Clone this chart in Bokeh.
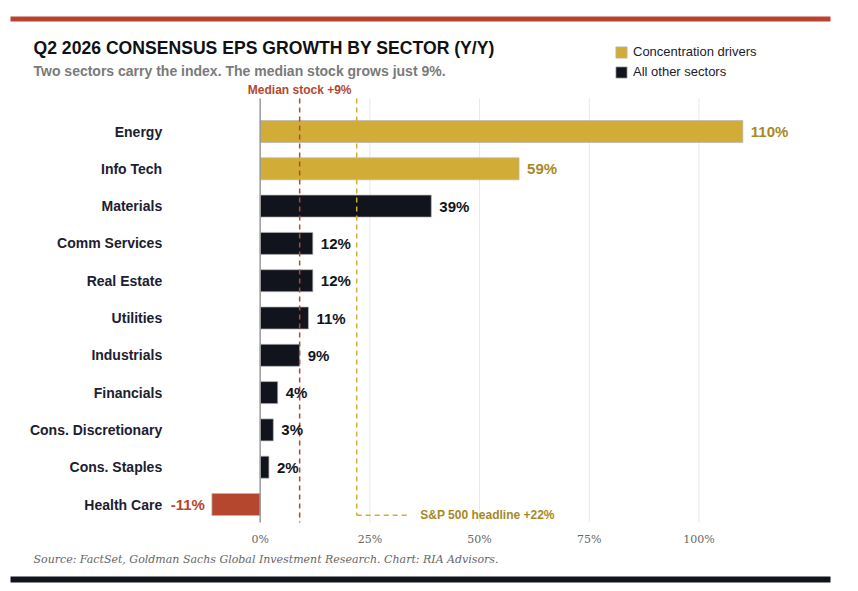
from bokeh.plotting import figure
from bokeh.models import Range1d, Label, BoxAnnotation, Legend, LegendItem, ColumnDataSource
from bokeh.embed import file_html
from bokeh.resources import INLINE
from bokeh.core.properties import value

# --- data -------------------------------------------------------------
sectors = ["Energy", "Info Tech", "Materials", "Comm Services", "Real Estate",
           "Utilities", "Industrials", "Financials", "Cons. Discretionary",
           "Cons. Staples", "Health Care"]
eps_growth = [110, 59, 39, 12, 12, 11, 9, 4, 3, 2, -11]
drivers = ["Energy", "Info Tech"]
median_growth = 9
headline_growth = 22
x_ticks = [0, 25, 50, 75, 100]
x_tick_labels = ["0%", "25%", "50%", "75%", "100%"]

# --- styling ----------------------------------------------------------
GOLD = "#d1ad37"
GOLD_TEXT = "#a8891f"
INK = "#11141c"
RED = "#b6472f"
NAVY = "#1b2030"
SANS = "Liberation Sans"
SERIF = "DejaVu Serif"

W, H = 858, 591
ypos = [-i for i in range(len(sectors))]
row_top, row_bottom = 0.885, -10.483      # extent of the plotting band

# The frame fills the whole canvas so headings, legend and notes can sit
# anywhere on it; the scales keep 0% at x=260px and 37.3px per sector row.
p = figure(width=W, height=H, output_backend="svg", toolbar_location=None,
           title=None, x_axis_location=None, y_axis_location=None,
           x_range=Range1d(-59.18, 136.36), y_range=Range1d(-12.332, 3.512),
           min_border=0)
p.outline_line_color = None
p.grid.visible = False
p.background_fill_color = "white"
p.border_fill_color = "white"

# gridlines, zero line and reference lines
grid_x = [t for t in x_ticks if t != 0]
p.segment(x0=grid_x, x1=grid_x, y0=row_top, y1=row_bottom,
          line_color="#e8e8e8", line_width=1)


def group(pred):
    idx = [i for i, (s, v) in enumerate(zip(sectors, eps_growth)) if pred(s, v)]
    return ColumnDataSource(dict(
        y=[ypos[i] for i in idx],
        v=[eps_growth[i] for i in idx],
        label=[f"{eps_growth[i]}%" for i in idx],
    ))


src_drivers = group(lambda s, v: s in drivers)
src_other = group(lambda s, v: s not in drivers and v >= 0)
src_neg = group(lambda s, v: s not in drivers and v < 0)

bar_kw = dict(y="y", left=0, right="v", height=0.59,
              line_color="#b5b5b5", line_alpha=0.7, line_width=1)
r_drivers = p.hbar(source=src_drivers, fill_color=GOLD, **bar_kw)
r_other = p.hbar(source=src_other, fill_color=INK, **bar_kw)
r_neg = p.hbar(source=src_neg, fill_color=RED, **bar_kw)

p.segment(x0=[0], x1=[0], y0=row_top, y1=row_bottom,
          line_color="#9a9a9a", line_width=1.5)
p.segment(x0=[median_growth], x1=[median_growth], y0=row_top, y1=row_bottom,
          line_color=RED, line_width=1.5, line_dash="5 4")

# S&P 500 headline reference with a leader to its note
note_y = -10.29
leader_len = 12
p.segment(x0=[headline_growth, headline_growth],
          y0=[row_top, note_y],
          x1=[headline_growth, headline_growth + leader_len],
          y1=[note_y, note_y],
          line_color=GOLD, line_width=1.5, line_dash="5 4")

# category labels and x tick labels
p.text(x=0, y=ypos, text=sectors, x_offset=-98, text_align="right",
       text_baseline="middle", text_font=value(SANS), text_font_style="bold",
       text_font_size="14px", text_color=NAVY)
p.text(x=x_ticks, y=row_bottom, text=x_tick_labels, y_offset=17,
       text_align="center", text_baseline="middle", text_font=value(SERIF),
       text_font_size="11px", text_color="#666666")

# value labels
txt_kw = dict(x="v", y="y", text="label", text_baseline="middle",
              text_font=value(SANS), text_font_style="bold",
              text_font_size="15px")
p.text(source=src_drivers, x_offset=8, text_align="left",
       text_color=GOLD_TEXT, **txt_kw)
p.text(source=src_other, x_offset=8, text_align="left",
       text_color=INK, **txt_kw)
p.text(source=src_neg, x_offset=-7, text_align="right",
       text_color=RED, **txt_kw)


def at(cx, cy):
    # canvas pixel position (from top-left) in screen units
    return dict(x=cx, y=H - cy, x_units="screen", y_units="screen")


def band(top, bottom, color):
    return BoxAnnotation(left=10, right=830, top=H - top, bottom=H - bottom,
                         left_units="screen", right_units="screen",
                         top_units="screen", bottom_units="screen",
                         fill_color=color, fill_alpha=1, line_color=None)


p.add_layout(band(16, 21, "#b9432e"))
p.add_layout(band(576, 582, INK))

p.add_layout(Label(text="Q2 2026 CONSENSUS EPS GROWTH BY SECTOR (Y/Y)",
                   text_font=SANS, text_font_style="bold", text_font_size="17.6px",
                   text_color="#111111", text_baseline="middle", **at(33, 47)))
p.add_layout(Label(text="Two sectors carry the index. The median stock grows just 9%.",
                   text_font=SANS, text_font_style="bold", text_font_size="14px",
                   text_color="#7a7a7a", text_baseline="middle", **at(33, 70)))
p.add_layout(Label(x=median_growth, y=H - 89, x_units="data", y_units="screen",
                   text=f"Median stock +{median_growth}%",
                   text_font=SANS, text_font_style="bold", text_font_size="12px",
                   text_color=RED, text_align="center", text_baseline="middle"))
p.add_layout(Label(x=headline_growth + leader_len + 2.5, y=note_y,
                   text=f"S&P 500 headline +{headline_growth}%",
                   text_font=SANS, text_font_style="bold", text_font_size="12px",
                   text_color=GOLD_TEXT, text_baseline="middle"))
p.add_layout(Label(text="Source: FactSet, Goldman Sachs Global Investment Research. "
                        "Chart: RIA Advisors.",
                   text_font=SERIF, text_font_style="italic", text_font_size="11px",
                   text_color="#666666", text_baseline="middle", **at(33, 559)))

# legend: bottom-left corner given in screen units, rows of 14px + 5px gap
legend = Legend(items=[LegendItem(label="Concentration drivers", renderers=[r_drivers]),
                       LegendItem(label="All other sectors", renderers=[r_other])],
                location=(614, H - 79), orientation="vertical",
                padding=0, margin=0, spacing=5, glyph_width=14, glyph_height=14,
                label_height=14, label_standoff=5,
                border_line_color=None, background_fill_alpha=0,
                label_text_font=SANS, label_text_font_size="13px",
                label_text_color=NAVY)
p.add_layout(legend)

open("out.html", "w").write(file_html(p, INLINE))
